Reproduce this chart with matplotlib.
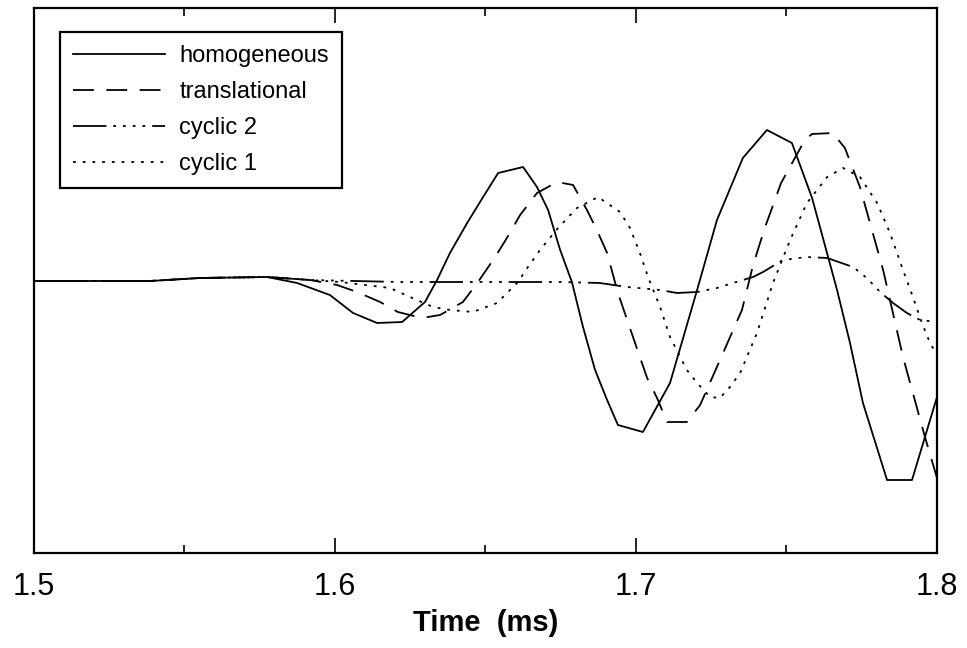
import matplotlib
matplotlib.use("Agg")
import matplotlib.pyplot as plt
from matplotlib.ticker import MultipleLocator

plt.rcParams['font.family'] = ['Liberation Sans', 'DejaVu Sans']
plt.rcParams['lines.scale_dashes'] = False

# traces (time in ms, amplitude in arbitrary units)
t_homog = [1.5, 1.5385, 1.5551, 1.5774, 1.5874, 1.5983, 1.6060, 1.6140, 1.6223, 1.6299,
           1.6339, 1.6382, 1.6439, 1.6492, 1.6542, 1.6625, 1.6671, 1.6708, 1.6748, 1.6787,
           1.6824, 1.6864, 1.6904, 1.6940, 1.7023, 1.7113, 1.7203, 1.7269, 1.7355, 1.7435,
           1.7518, 1.7585, 1.7668, 1.7711, 1.7754, 1.7834, 1.7917, 1.8]
y_homog = [0, 0, 0.03, 0.04, -0.02, -0.14, -0.32, -0.42, -0.41, -0.21,
           0.01, 0.28, 0.58, 0.84, 1.08, 1.14, 0.94, 0.71, 0.31, -0.01,
           -0.46, -0.89, -1.19, -1.44, -1.51, -1.02, -0.09, 0.61, 1.23, 1.51,
           1.38, 0.83, -0.09, -0.62, -1.22, -1.99, -1.99, -1.16]

t_trans = [1.5, 1.5385, 1.5551, 1.5774, 1.5917, 1.6007, 1.6073, 1.6150, 1.6209, 1.6289,
           1.6349, 1.6425, 1.6475, 1.6532, 1.6571, 1.6615, 1.6671, 1.6738, 1.6791, 1.6837,
           1.6870, 1.6904, 1.6940, 1.6990, 1.7037, 1.7070, 1.7103, 1.7169, 1.7213, 1.7279,
           1.7352, 1.7389, 1.7429, 1.7482, 1.7561, 1.7585, 1.7654, 1.7694, 1.7744, 1.7821,
           1.7887, 1.7960, 1.8]
y_trans = [0, 0, 0.03, 0.04, 0.01, -0.04, -0.11, -0.21, -0.31, -0.37,
           -0.34, -0.21, -0.01, 0.24, 0.43, 0.66, 0.88, 0.99, 0.96, 0.71,
           0.51, 0.28, -0.12, -0.56, -0.97, -1.17, -1.41, -1.41, -1.24, -0.79,
           -0.29, 0.16, 0.54, 0.98, 1.41, 1.47, 1.48, 1.33, 0.94, 0.11,
           -0.76, -1.56, -1.97]

t_cyc2 = [1.5, 1.5385, 1.5551, 1.5774, 1.5917, 1.6216, 1.6748, 1.6880, 1.6970, 1.7080,
          1.7136, 1.7203, 1.7269, 1.7322, 1.7389, 1.7422, 1.7488, 1.7568, 1.7635, 1.7721,
          1.7767, 1.7811, 1.7854, 1.7900, 1.7944, 1.8]
y_cyc2 = [0, 0, 0.03, 0.04, 0.01, -0.01, -0.01, -0.02, -0.06, -0.09,
          -0.12, -0.11, -0.07, -0.02, 0.04, 0.09, 0.21, 0.24, 0.23, 0.14,
          0.03, -0.11, -0.22, -0.32, -0.39, -0.41]

t_cyc1 = [1.5, 1.5385, 1.5551, 1.5774, 1.5917, 1.6017, 1.6183, 1.6249, 1.6326, 1.6382,
          1.6458, 1.6538, 1.6575, 1.6608, 1.6641, 1.6681, 1.6741, 1.6804, 1.6874, 1.6947,
          1.6980, 1.7013, 1.7040, 1.7080, 1.7113, 1.7169, 1.7203, 1.7246, 1.7279, 1.7312,
          1.7346, 1.7402, 1.7455, 1.7512, 1.7568, 1.7635, 1.7688, 1.7744, 1.7801, 1.7844,
          1.7887, 1.7920, 1.7950, 1.7977, 1.8]
y_cyc1 = [0, 0, 0.03, 0.04, 0.01, -0.01, -0.07, -0.16, -0.26, -0.29,
          -0.31, -0.22, -0.11, -0.01, 0.14, 0.31, 0.53, 0.73, 0.84, 0.69,
          0.53, 0.28, 0.04, -0.26, -0.56, -0.89, -1.02, -1.16, -1.17, -1.06,
          -0.92, -0.52, -0.02, 0.41, 0.78, 1.04, 1.13, 1.04, 0.78, 0.48,
          0.11, -0.16, -0.42, -0.62, -0.74]

fig = plt.figure(figsize=(9.67, 6.48), dpi=100)
ax = fig.add_axes([34 / 967, 1 - 553 / 648, 903 / 967, 545 / 648])

lw = 1.3
ax.plot(t_homog, y_homog, color="black", lw=lw, label="homogeneous")
ax.plot(t_trans, y_trans, color="black", lw=lw, dashes=(15, 9), label="translational")
ax.plot(t_cyc2, y_cyc2, color="black", lw=lw,
        dashes=(24, 5, 2, 5, 2, 5, 2, 5, 2, 5), label="cyclic 2")
ax.plot(t_cyc1, y_cyc1, color="black", lw=lw, dashes=(2, 5), label="cyclic 1")

ax.set_xlim(1.5, 1.8)
ax.set_ylim(-2.72, 2.73)
ax.xaxis.set_minor_locator(MultipleLocator(0.05))
ax.set_xticks([1.5, 1.6, 1.7, 1.8])
ax.set_xticklabels(["1.5", "1.6", "1.7", "1.8"], fontsize=22)
ax.tick_params(axis="x", which="major", direction="in", top=True, length=11, width=1.2, pad=14)
ax.tick_params(axis="x", which="minor", direction="in", top=True, length=5.5, width=1.2)
ax.set_yticks([])
for s in ax.spines.values():
    s.set_linewidth(1.6)

ax.set_xlabel("Time  (ms)", fontsize=21, fontweight="bold", labelpad=5)

leg = ax.legend(loc="upper left", bbox_to_anchor=(0.0288, 0.956), borderaxespad=0,
                fontsize=17, handlelength=3.9, handletextpad=0.6, borderpad=0.55,
                labelspacing=0.6, fancybox=False, framealpha=1, edgecolor="black")
leg.get_frame().set_linewidth(1.6)

fig.savefig("out.png", dpi=100)
